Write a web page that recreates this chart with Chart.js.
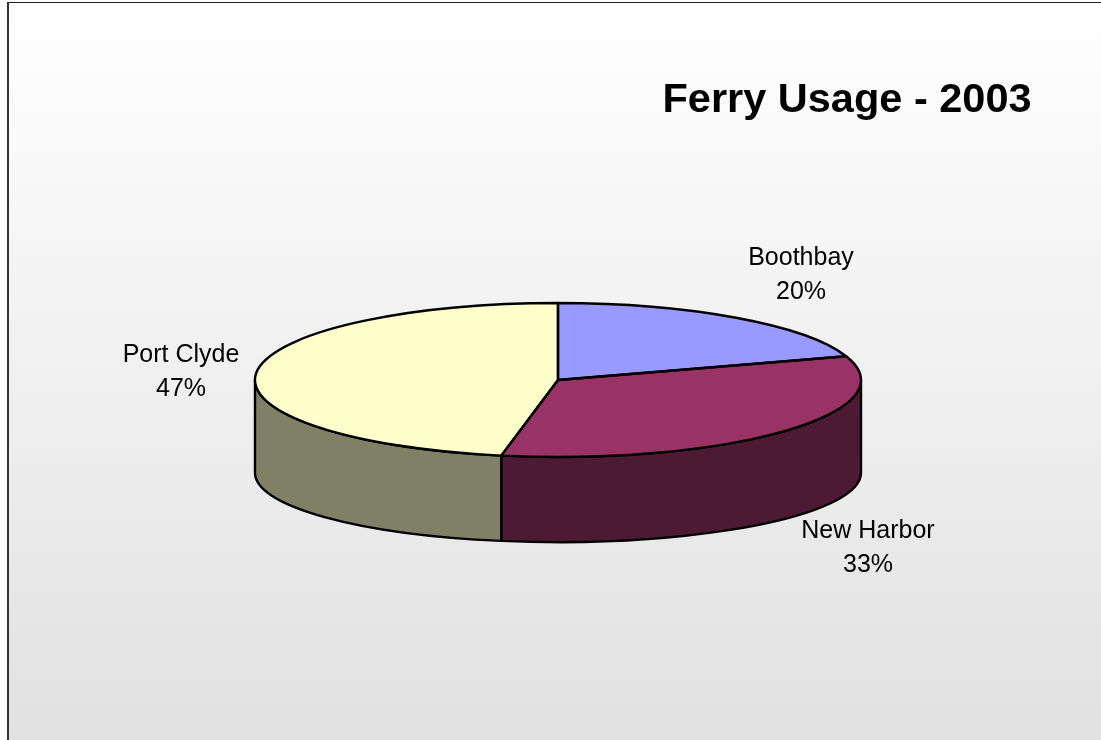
<!DOCTYPE html>
<html lang="en">
<head>
<meta charset="UTF-8">
<title>Ferry Usage - 2003</title>
<script src="https://cdn.jsdelivr.net/npm/chart.js"></script>
<style>
  html, body { margin: 0; padding: 0; background: #fff; }
  body { width: 1101px; height: 740px; overflow: hidden; position: relative; }
  .frame {
    position: absolute; left: 7px; top: 2px; right: 0; bottom: 0;
    border-top: 1px solid #222; border-left: 2px solid #333;
    background: linear-gradient(to bottom, #ffffff 0%, #e1e1e1 100%);
  }
  #ferryChart { position: absolute; left: 0; top: 0; }
</style>
</head>
<body>
<div class="frame"></div>
<canvas id="ferryChart" width="1101" height="740"></canvas>
<script>
const ports = ['Boothbay', 'New Harbor', 'Port Clyde'];
const usage = [20, 33, 47];
const topColors = ['#9999ff', '#993366', '#ffffcc'];
const sideColors = ['#4d4d80', '#4d1a33', '#808066'];

// label placement: centre x, first-line baseline
const labelAnchors = [[801, 265], [868, 538], [181, 362]];

const TILT = 0.254;       // vertical squash of the top face
const BASE_DROP = 93;     // bottom rim centre sits this far below the top one
const BASE_TILT = 0.228;  // bottom rim is a little flatter (perspective)
const PEN = 2.4;

function squash(ctx, x, y) {
  ctx.translate(x, y);
  ctx.scale(1, TILT);
  ctx.translate(-x, -y);
}

const pie3d = {
  id: 'pie3d',
  beforeDatasetsDraw(chart) {
    const ctx = chart.ctx;
    const arcs = chart.getDatasetMeta(0).data;
    const { x, y, outerRadius: r } = arcs[0];

    // walls: only the front half (0..PI) of the rim is visible
    ctx.lineWidth = PEN;
    ctx.lineJoin = 'round';
    ctx.strokeStyle = '#000';
    arcs.forEach((arc, i) => {
      const lo = Math.max(arc.startAngle, 0);
      const hi = Math.min(arc.endAngle, Math.PI);
      if (hi <= lo) return;
      ctx.beginPath();
      ctx.ellipse(x, y, r, r * TILT, 0, lo, hi);
      ctx.ellipse(x, y + BASE_DROP, r, r * BASE_TILT, 0, hi, lo, true);
      ctx.closePath();
      ctx.fillStyle = sideColors[i];
      ctx.fill();
      ctx.stroke();
    });

    // let Chart.js paint the top faces in the flattened space
    ctx.save();
    squash(ctx, x, y);
  },
  afterDatasetsDraw(chart) {
    const ctx = chart.ctx;
    ctx.restore();
    const arcs = chart.getDatasetMeta(0).data;

    // outlines: path built squashed, stroked unsquashed so the pen stays even
    ctx.lineWidth = PEN;
    ctx.lineJoin = 'round';
    ctx.strokeStyle = '#000';
    arcs.forEach(arc => {
      ctx.save();
      squash(ctx, arc.x, arc.y);
      ctx.beginPath();
      ctx.moveTo(arc.x, arc.y);
      ctx.arc(arc.x, arc.y, arc.outerRadius, arc.startAngle, arc.endAngle);
      ctx.closePath();
      ctx.restore();
      ctx.stroke();
    });
  },
  afterDraw(chart) {
    const ctx = chart.ctx;
    ctx.save();
    ctx.fillStyle = '#000';
    ctx.textAlign = 'center';
    ctx.textBaseline = 'alphabetic';

    ctx.font = 'bold 41.5px "Liberation Sans", Arial, sans-serif';
    ctx.fillText('Ferry Usage - 2003', 847, 112);

    ctx.font = '25px "Liberation Sans", Arial, sans-serif';
    ports.forEach((name, i) => {
      const [lx, ly] = labelAnchors[i];
      ctx.fillText(name, lx, ly);
      ctx.fillText(usage[i] + '%', lx, ly + 34);
    });
    ctx.restore();
  }
};

new Chart(document.getElementById('ferryChart'), {
  type: 'pie',
  data: {
    labels: ports,
    datasets: [{
      data: usage,
      backgroundColor: topColors,
      borderWidth: 0,
      clip: false
    }]
  },
  options: {
    responsive: false,
    animation: false,
    devicePixelRatio: 1,
    events: [],
    layout: { padding: { left: 255, right: 240, top: 77, bottom: 57 } },
    plugins: {
      legend: { display: false },
      tooltip: { enabled: false },
      title: { display: false }
    }
  },
  plugins: [pie3d]
});
</script>
</body>
</html>
